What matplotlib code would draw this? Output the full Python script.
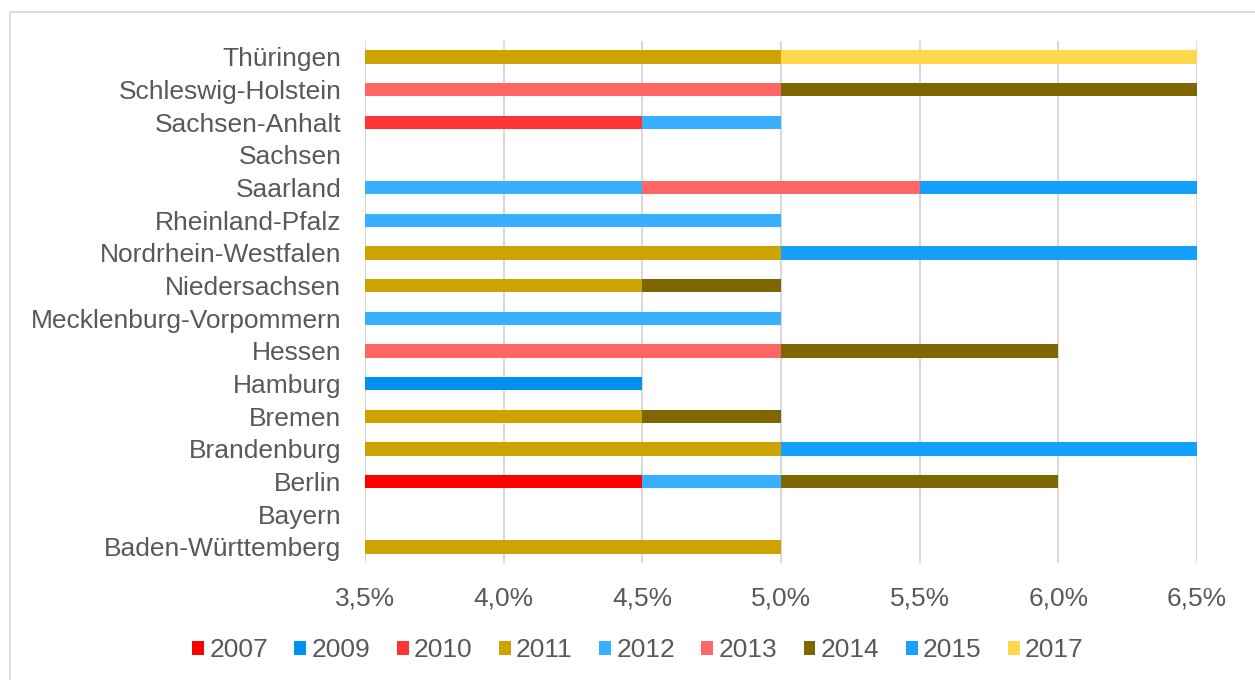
import matplotlib.pyplot as plt
from matplotlib.patches import Rectangle
from matplotlib.ticker import MultipleLocator, FuncFormatter

plt.rcParams["font.family"] = ["Liberation Sans", "DejaVu Sans"]

# states from bottom to top
states = ["Baden-Württemberg", "Bayern", "Berlin", "Brandenburg", "Bremen",
          "Hamburg", "Hessen", "Mecklenburg-Vorpommern", "Niedersachsen",
          "Nordrhein-Westfalen", "Rheinland-Pfalz", "Saarland", "Sachsen",
          "Sachsen-Anhalt", "Schleswig-Holstein", "Thüringen"]

base_rate = 3.5  # rate before the first increase (axis start)

years = ["2007", "2009", "2010", "2011", "2012", "2013", "2014", "2015", "2017"]

# increase in percentage points per year, same order as states
inc_2007 = [0, 0, 1.0, 0, 0, 0, 0, 0, 0, 0, 0, 0, 0, 0, 0, 0]
inc_2009 = [0, 0, 0, 0, 0, 1.0, 0, 0, 0, 0, 0, 0, 0, 0, 0, 0]
inc_2010 = [0, 0, 0, 0, 0, 0, 0, 0, 0, 0, 0, 0, 0, 1.0, 0, 0]
inc_2011 = [1.5, 0, 0, 1.5, 1.0, 0, 0, 0, 1.0, 1.5, 0, 0, 0, 0, 0, 1.5]
inc_2012 = [0, 0, 0.5, 0, 0, 0, 0, 1.5, 0, 0, 1.5, 1.0, 0, 0.5, 0, 0]
inc_2013 = [0, 0, 0, 0, 0, 0, 1.5, 0, 0, 0, 0, 1.0, 0, 0, 1.5, 0]
inc_2014 = [0, 0, 1.0, 0, 0.5, 0, 1.0, 0, 0.5, 0, 0, 0, 0, 0, 1.5, 0]
inc_2015 = [0, 0, 0, 1.5, 0, 0, 0, 0, 0, 1.5, 0, 1.0, 0, 0, 0, 0]
inc_2017 = [0, 0, 0, 0, 0, 0, 0, 0, 0, 0, 0, 0, 0, 0, 0, 1.5]

increments = [inc_2007, inc_2009, inc_2010, inc_2011, inc_2012,
              inc_2013, inc_2014, inc_2015, inc_2017]
colors = ["#FF0000", "#0090F0", "#FF3333", "#CCA300", "#38AFFF",
          "#FF6666", "#806600", "#14A0FF", "#FFD84C"]

text_color = "#595959"
grid_color = "#D9D9D9"

fig = plt.figure(figsize=(12.55, 6.8), dpi=100)
ax = fig.add_axes([0.2908, 0.1716, 0.663, 0.7686])

# light frame around the chart
fig.patches.append(Rectangle((10 / 1255, -0.01), 1.02, 1 - 12 / 680 + 0.01,
                             transform=fig.transFigure, fill=False,
                             edgecolor=grid_color, linewidth=1.2))

ypos = list(range(len(states)))
left = [base_rate] * len(states)
for year, inc, col in zip(years, increments, colors):
    ax.barh(ypos, inc, left=left, height=0.4, color=col, label=year, zorder=3)
    left = [l + v for l, v in zip(left, inc)]

ax.set_xlim(3.5, 6.5)
ax.set_ylim(-0.5, len(states) - 0.5)
ax.xaxis.set_major_locator(MultipleLocator(0.5))
ax.xaxis.set_major_formatter(FuncFormatter(lambda x, p: f"{x:.1f}%".replace(".", ",")))
ax.set_yticks(ypos)
ax.set_yticklabels(states)

ax.grid(axis="x", color=grid_color, linewidth=1.5, zorder=0)
ax.set_axisbelow(True)
for s in ax.spines.values():
    s.set_visible(False)
ax.tick_params(axis="both", length=0, labelsize=19, labelcolor=text_color)
ax.tick_params(axis="y", pad=17)
ax.tick_params(axis="x", pad=17)

ax.legend(loc="center", bbox_to_anchor=(638 / 1255, 1 - 650 / 680),
          bbox_transform=fig.transFigure, ncol=len(years), frameon=False,
          fontsize=19, labelcolor=text_color, handlelength=0.45,
          handleheight=0.45, handletextpad=0.2, columnspacing=1.0)

fig.savefig("out.png", dpi=100)
